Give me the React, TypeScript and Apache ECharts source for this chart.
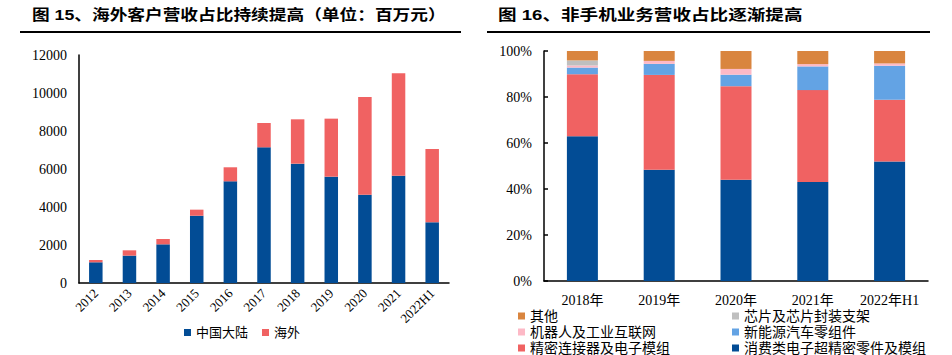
import React, { useEffect, useRef } from "react";
import * as echarts from "echarts";

const years = ["2012", "2013", "2014", "2015", "2016", "2017", "2018", "2019", "2020", "2021", "2022H1"];
const mainland = [1090, 1440, 2035, 3540, 5350, 7140, 6280, 5595, 4650, 5650, 3195];
const overseas = [120, 280, 280, 320, 740, 1280, 2335, 3055, 5140, 5385, 3855];

const periods = ["2018年", "2019年", "2020年", "2021年", "2022年H1"];
const consumer = [62.9, 48.4, 44.0, 43.0, 52.0];
const connector = [27.0, 41.2, 40.7, 40.0, 26.8];
const nev = [2.9, 4.8, 5.0, 10.3, 14.8];
const robot = [0.9, 1.3, 2.5, 1.0, 1.0];
const chip = [2.2, 0, 0, 0, 0];
const other = [4.1, 4.3, 7.8, 5.7, 5.4];

const leftTitle = "图 15、海外客户营收占比持续提高（单位：百万元）";
const rightTitle = "图 16、非手机业务营收占比逐渐提高";

const BLUE = "#024C95";
const RED = "#F06262";
const LBLUE = "#63A3E4";
const PINK = "#FDB9C6";
const GRAY = "#BFBFBF";
const ORANGE = "#D9853F";

const SERIF = "'Liberation Serif', 'Noto Sans CJK SC', serif";
const TITLEF = "'Liberation Sans', 'Noto Sans CJK SC', sans-serif";

export default function App() {
  const ref = useRef<HTMLDivElement>(null);
  useEffect(() => {
    if (!ref.current) return;
    const chart = echarts.init(ref.current, undefined, { renderer: "svg" });
    const axisLine = { show: true, lineStyle: { color: "#000", width: 1.5 } };
    const rightLegendPos = [
      { name: "其他", left: 518, top: 309 },
      { name: "芯片及芯片封装支架", left: 732, top: 309 },
      { name: "机器人及工业互联网", left: 518, top: 325 },
      { name: "新能源汽车零组件", left: 732, top: 325 },
      { name: "精密连接器及电子模组", left: 518, top: 341 },
      { name: "消费类电子超精密零件及模组", left: 732, top: 341 },
    ];
    const option: any = {
      animation: false,
      backgroundColor: "#fff",
      graphic: [
        {
          type: "text",
          x: 32,
          y: 15,
          scaleX: 1.18,
          style: { text: leftTitle, font: `bold 15px ${TITLEF}`, fill: "#000", verticalAlign: "middle" },
        },
        {
          type: "text",
          x: 498,
          y: 15,
          scaleX: 1.24,
          style: { text: rightTitle, font: `bold 15px ${TITLEF}`, fill: "#000", verticalAlign: "middle" },
        },
        { type: "line", shape: { x1: 20, y1: 32, x2: 461, y2: 32 }, style: { stroke: "#000", lineWidth: 2 } },
        { type: "line", shape: { x1: 487, y1: 32, x2: 930, y2: 32 }, style: { stroke: "#000", lineWidth: 2 } },
      ],
      grid: [
        { left: 79, top: 55, width: 370, height: 228, containLabel: false },
        { left: 544, top: 51, width: 384, height: 230, containLabel: false },
      ],
      legend: [
        {
          data: ["中国大陆", "海外"],
          left: 184,
          top: 326,
          padding: 0,
          itemWidth: 7,
          itemHeight: 7,
          itemGap: 14,
          icon: "rect",
          textStyle: { fontFamily: SERIF, fontSize: 13, color: "#000" },
        },
        ...rightLegendPos.map((p) => ({
          data: [p.name],
          left: p.left,
          top: p.top,
          padding: 0,
          itemWidth: 7,
          itemHeight: 7,
          icon: "rect",
          textStyle: { fontFamily: SERIF, fontSize: 14, color: "#000" },
        })),
      ],
      xAxis: [
        {
          type: "category",
          gridIndex: 0,
          data: years,
          axisLine,
          axisTick: { show: false },
          axisLabel: { rotate: 45, fontFamily: SERIF, fontSize: 13, color: "#000", margin: 8, interval: 0 },
        },
        {
          type: "category",
          gridIndex: 1,
          data: periods,
          axisLine,
          axisTick: { show: false },
          axisLabel: { fontFamily: SERIF, fontSize: 14, color: "#000", margin: 12, interval: 0 },
        },
      ],
      yAxis: [
        {
          type: "value",
          gridIndex: 0,
          min: 0,
          max: 12000,
          interval: 2000,
          axisLine,
          axisTick: { show: false },
          splitLine: { show: false },
          axisLabel: { fontFamily: SERIF, fontSize: 14, color: "#000", margin: 12, formatter: (v: number) => String(v) },
        },
        {
          type: "value",
          gridIndex: 1,
          min: 0,
          max: 100,
          interval: 20,
          axisLine,
          axisTick: { show: true, inside: true, length: 4, lineStyle: { color: "#000", width: 1.5 } },
          splitLine: { show: false },
          axisLabel: { fontFamily: SERIF, fontSize: 14, color: "#000", margin: 12, formatter: "{value}%" },
        },
      ],
      series: [
        { name: "中国大陆", type: "bar", stack: "a", xAxisIndex: 0, yAxisIndex: 0, data: mainland, barWidth: 13.5, itemStyle: { color: BLUE } },
        { name: "海外", type: "bar", stack: "a", xAxisIndex: 0, yAxisIndex: 0, data: overseas, barWidth: 13.5, itemStyle: { color: RED } },
        { name: "消费类电子超精密零件及模组", type: "bar", stack: "b", xAxisIndex: 1, yAxisIndex: 1, data: consumer, barWidth: 31, itemStyle: { color: BLUE } },
        { name: "精密连接器及电子模组", type: "bar", stack: "b", xAxisIndex: 1, yAxisIndex: 1, data: connector, barWidth: 31, itemStyle: { color: RED } },
        { name: "新能源汽车零组件", type: "bar", stack: "b", xAxisIndex: 1, yAxisIndex: 1, data: nev, barWidth: 31, itemStyle: { color: LBLUE } },
        { name: "机器人及工业互联网", type: "bar", stack: "b", xAxisIndex: 1, yAxisIndex: 1, data: robot, barWidth: 31, itemStyle: { color: PINK } },
        { name: "芯片及芯片封装支架", type: "bar", stack: "b", xAxisIndex: 1, yAxisIndex: 1, data: chip, barWidth: 31, itemStyle: { color: GRAY } },
        { name: "其他", type: "bar", stack: "b", xAxisIndex: 1, yAxisIndex: 1, data: other, barWidth: 31, itemStyle: { color: ORANGE } },
      ],
    };
    chart.setOption(option);
    return () => chart.dispose();
  }, []);
  return <div ref={ref} style={{ position: "fixed", left: 0, top: 0, width: 952, height: 355 }} />;
}
